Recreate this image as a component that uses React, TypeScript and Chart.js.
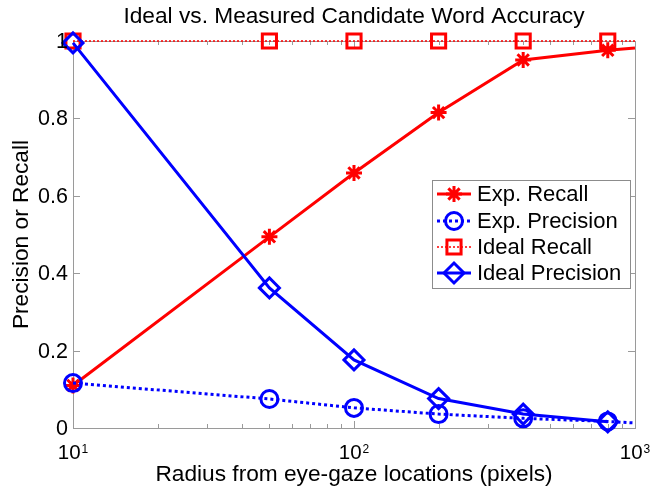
import React, { useEffect, useRef } from "react";
import { Chart, registerables } from "chart.js";

Chart.register(...registerables);

// ---- data ----
const xValues = [10, 50, 100, 200, 400, 800, 1000];
const expRecall = [0.11, 0.494, 0.659, 0.815, 0.951, 0.976, 0.982];
const expPrecision = [0.116, 0.075, 0.052, 0.036, 0.025, 0.017, 0.013];
const idealRecall = [1, 1, 1, 1, 1, 1, 1];
const idealPrecision = [0.995, 0.362, 0.176, 0.076, 0.036, 0.016];
const markerShown = [true, true, true, true, true, true, false];

const seriesLabels = ["Exp. Recall", "Exp. Precision", "Ideal Recall", "Ideal Precision"];
const yTicks = [0, 0.2, 0.4, 0.6, 0.8, 1];
const yTickLabels = ["0", "0.2", "0.4", "0.6", "0.8", "1"];
const xMajorTicks = [10, 100, 1000];
const xTickBases = ["10", "10", "10"];
const xTickExponents = ["1", "2", "3"];
const xMinorTicks = [20, 30, 40, 50, 60, 70, 80, 90, 200, 300, 400, 500, 600, 700, 800, 900];

const titleText = "Ideal vs. Measured Candidate Word Accuracy";
const xTitle = "Radius from eye-gaze locations (pixels)";
const yTitle = "Precision or Recall";

const FONT = '"Liberation Sans", Arial, Helvetica, sans-serif';
const RED = "#ff0000";
const BLUE = "#0000ff";
const FRAME = "#9a9a9a";

function pts(ys: number[]) {
  return ys.map((y, i) => ({ x: xValues[i], y }));
}

function markerRadii(r: number, n: number) {
  return markerShown.slice(0, n).map((s) => (s ? r : 0));
}

function drawMarker(ctx: CanvasRenderingContext2D, style: string, x: number, y: number, r: number) {
  ctx.beginPath();
  if (style === "circle") {
    ctx.arc(x, y, r, 0, Math.PI * 2);
  } else if (style === "rect") {
    const s = r * Math.SQRT1_2;
    ctx.rect(x - s, y - s, 2 * s, 2 * s);
  } else if (style === "rectRot") {
    ctx.moveTo(x - r, y);
    ctx.lineTo(x, y - r);
    ctx.lineTo(x + r, y);
    ctx.lineTo(x, y + r);
    ctx.closePath();
  } else if (style === "star") {
    const d = r * Math.SQRT1_2;
    ctx.moveTo(x, y - r);
    ctx.lineTo(x, y + r);
    ctx.moveTo(x - r, y);
    ctx.lineTo(x + r, y);
    ctx.moveTo(x - d, y - d);
    ctx.lineTo(x + d, y + d);
    ctx.moveTo(x - d, y + d);
    ctx.lineTo(x + d, y - d);
  }
  ctx.stroke();
}

const decorPlugin = {
  id: "decor",
  beforeDraw(chart: any) {
    const ctx = chart.ctx as CanvasRenderingContext2D;
    ctx.save();
    ctx.fillStyle = "#ffffff";
    ctx.fillRect(0, 0, chart.width, chart.height);
    ctx.restore();
  },
  beforeDatasetsDraw(chart: any) {
    const ctx = chart.ctx as CanvasRenderingContext2D;
    const { left, right, top, bottom } = chart.chartArea;
    const xs = chart.scales.x;
    const ys = chart.scales.y;
    ctx.save();
    ctx.strokeStyle = FRAME;
    ctx.lineWidth = 1;
    ctx.strokeRect(Math.round(left) + 0.5, Math.round(top) + 0.5, Math.round(right - left), Math.round(bottom - top));
    ctx.beginPath();
    for (const v of xMajorTicks) {
      const px = Math.round(xs.getPixelForValue(v)) + 0.5;
      ctx.moveTo(px, bottom);
      ctx.lineTo(px, bottom - 7);
      ctx.moveTo(px, top);
      ctx.lineTo(px, top + 7);
    }
    for (const v of xMinorTicks) {
      const px = Math.round(xs.getPixelForValue(v)) + 0.5;
      ctx.moveTo(px, bottom);
      ctx.lineTo(px, bottom - 4);
      ctx.moveTo(px, top);
      ctx.lineTo(px, top + 4);
    }
    for (const v of yTicks) {
      const py = Math.round(ys.getPixelForValue(v)) + 0.5;
      ctx.moveTo(left, py);
      ctx.lineTo(left + 7, py);
      ctx.moveTo(right, py);
      ctx.lineTo(right - 7, py);
    }
    ctx.stroke();
    ctx.restore();
  },
  afterDraw(chart: any) {
    const ctx = chart.ctx as CanvasRenderingContext2D;
    const { left, right, top, bottom } = chart.chartArea;
    const xs = chart.scales.x;
    const ys = chart.scales.y;
    ctx.save();
    ctx.fillStyle = "#000000";

    // title
    ctx.font = `22.7px ${FONT}`;
    ctx.textAlign = "center";
    ctx.textBaseline = "alphabetic";
    ctx.fillText(titleText, (left + right) / 2, 23);

    // x title
    ctx.fillText(xTitle, (left + right) / 2, 481);

    // y title
    ctx.save();
    ctx.translate(28, (top + bottom) / 2);
    ctx.rotate(-Math.PI / 2);
    ctx.fillText(yTitle, 0, 0);
    ctx.restore();

    // y tick labels
    ctx.font = `21.5px ${FONT}`;
    ctx.textAlign = "right";
    ctx.textBaseline = "middle";
    yTicks.forEach((v, i) => {
      ctx.fillText(yTickLabels[i], left - 5, ys.getPixelForValue(v) + 1);
    });

    // x tick labels (10^n)
    xMajorTicks.forEach((v, i) => {
      const px = xs.getPixelForValue(v);
      ctx.font = `20.5px ${FONT}`;
      const wb = ctx.measureText(xTickBases[i]).width;
      ctx.font = `12px ${FONT}`;
      const we = ctx.measureText(xTickExponents[i]).width;
      const start = px - (wb + we + 1) / 2;
      ctx.textAlign = "left";
      ctx.textBaseline = "alphabetic";
      ctx.font = `20.5px ${FONT}`;
      ctx.fillText(xTickBases[i], start, bottom + 31);
      ctx.font = `12px ${FONT}`;
      ctx.fillText(xTickExponents[i], start + wb + 1, bottom + 25);
    });

    // legend
    const bx = 432, by = 180, bw = 198, bh = 108;
    ctx.fillStyle = "#ffffff";
    ctx.fillRect(bx, by, bw, bh);
    ctx.strokeStyle = "#8c8c8c";
    ctx.lineWidth = 1;
    ctx.strokeRect(bx + 0.5, by + 0.5, bw, bh);
    const rowY = [194, 221, 247, 273];
    chart.data.datasets.forEach((ds: any, i: number) => {
      const y = rowY[i];
      ctx.save();
      ctx.strokeStyle = ds.borderColor;
      ctx.lineWidth = ds.borderWidth;
      ctx.setLineDash(ds.borderDash || []);
      ctx.beginPath();
      ctx.moveTo(437, y);
      ctx.lineTo(471, y);
      ctx.stroke();
      ctx.setLineDash([]);
      ctx.lineWidth = ds.pointBorderWidth;
      ctx.strokeStyle = ds.pointBorderColor;
      const r = Array.isArray(ds.pointRadius) ? ds.pointRadius[0] : ds.pointRadius;
      drawMarker(ctx, ds.pointStyle, 454, y, r);
      ctx.restore();
      ctx.fillStyle = "#000000";
      ctx.font = `22px ${FONT}`;
      ctx.textAlign = "left";
      ctx.textBaseline = "middle";
      ctx.fillText(ds.label, 477, y + 1);
    });

    ctx.restore();
  },
};

export default function App() {
  const canvasRef = useRef<HTMLCanvasElement | null>(null);

  useEffect(() => {
    document.body.style.margin = "0";
    const canvas = canvasRef.current;
    if (!canvas) return;
    const chart = new Chart(canvas, {
      type: "line",
      data: {
        datasets: [
          {
            label: seriesLabels[0],
            data: pts(expRecall),
            borderColor: RED,
            borderWidth: 3,
            pointStyle: "star",
            pointRadius: markerRadii(8, expRecall.length),
            pointBorderColor: RED,
            pointBackgroundColor: RED,
            pointBorderWidth: 3,
            tension: 0,
            clip: false,
            order: 3,
          },
          {
            label: seriesLabels[1],
            data: pts(expPrecision),
            borderColor: BLUE,
            borderWidth: 3,
            borderDash: [3, 3],
            pointStyle: "circle",
            pointRadius: markerRadii(8.5, expPrecision.length),
            pointBorderColor: BLUE,
            pointBackgroundColor: "rgba(0,0,0,0)",
            pointBorderWidth: 3,
            tension: 0,
            clip: false,
            order: 2,
          },
          {
            label: seriesLabels[2],
            data: pts(idealRecall),
            borderColor: RED,
            borderWidth: 1.5,
            borderDash: [2, 2],
            pointStyle: "rect",
            pointRadius: markerRadii(10, idealRecall.length),
            pointBorderColor: RED,
            pointBackgroundColor: "rgba(0,0,0,0)",
            pointBorderWidth: 3,
            tension: 0,
            clip: false,
            order: 1,
          },
          {
            label: seriesLabels[3],
            data: pts(idealPrecision),
            borderColor: BLUE,
            borderWidth: 3,
            pointStyle: "rectRot",
            pointRadius: markerRadii(10, idealPrecision.length),
            pointBorderColor: BLUE,
            pointBackgroundColor: "rgba(0,0,0,0)",
            pointBorderWidth: 3,
            tension: 0,
            clip: false,
            order: 0,
          },
        ],
      },
      options: {
        responsive: false,
        animation: false,
        events: [],
        layout: { padding: { left: 73, right: 27, top: 41, bottom: 58 } },
        scales: {
          x: { type: "logarithmic", min: 10, max: 1000, display: false },
          y: { type: "linear", min: 0, max: 1, display: false },
        },
        plugins: {
          legend: { display: false },
          title: { display: false },
          tooltip: { enabled: false },
        },
      },
      plugins: [decorPlugin],
    } as any);
    return () => chart.destroy();
  }, []);

  return (
    <div style={{ width: 662, height: 486 }}>
      <canvas ref={canvasRef} width={662} height={486} style={{ display: "block" }} />
    </div>
  );
}
